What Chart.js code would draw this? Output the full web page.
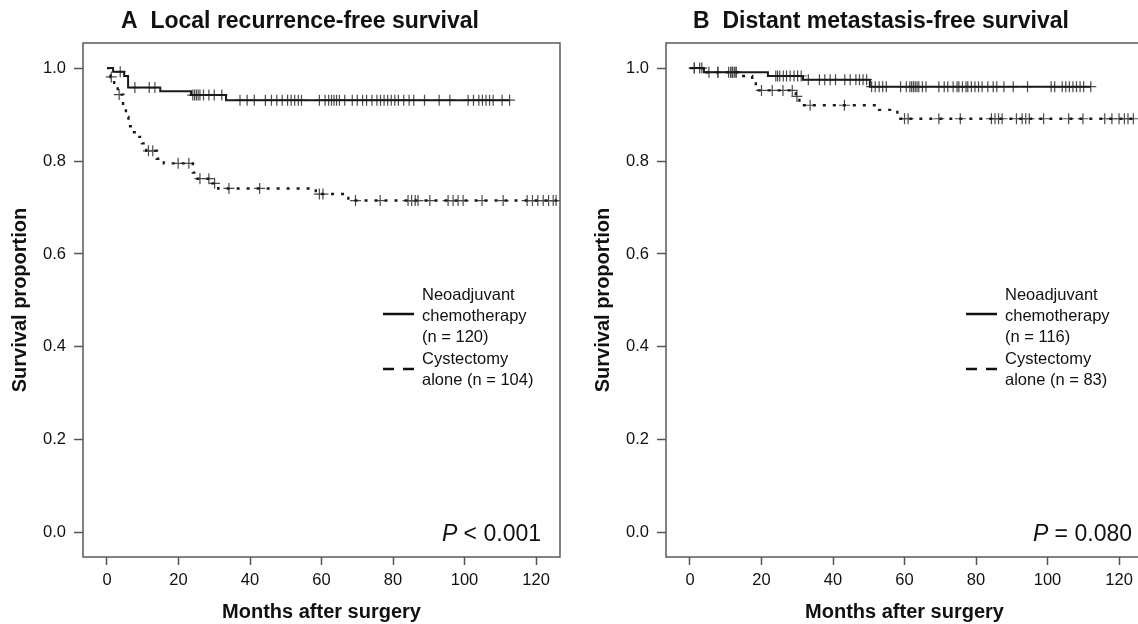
<!DOCTYPE html>
<html>
<head>
<meta charset="utf-8">
<title>Survival curves</title>
<script src="https://cdn.jsdelivr.net/npm/chart.js@4.4.1/dist/chart.umd.min.js"></script>
<style>
  html, body { margin: 0; padding: 0; background: #fff; overflow: hidden; }
  #wrap { position: relative; width: 1138px; height: 624px; overflow: hidden; }
  canvas { position: absolute; top: 0; }
  #panelA { left: 0; }
  #panelB { left: 583px; }
</style>
</head>
<body>
<div id="wrap">
  <canvas id="panelA" width="570" height="624"></canvas>
  <canvas id="panelB" width="570" height="624"></canvas>
</div>
<script>
// Ejes
const xTicks = [0, 20, 40, 60, 80, 100, 120];
const xTickLabels = ['0', '20', '40', '60', '80', '100', '120'];
const yTicks = [0, 0.2, 0.4, 0.6, 0.8, 1.0];
const yTickLabels = ['0.0', '0.2', '0.4', '0.6', '0.8', '1.0'];

// A - Local recurrence-free survival
const aNacTime = [0, 1.7, 4.8, 5.9, 14.9, 23.5, 33.3, 112.6];
const aNacSurv = [1, 0.992, 0.983, 0.958, 0.950, 0.942, 0.931, 0.931];
const aNacCensor = [3.7, 7.8, 11.8, 13.4, 24.0, 24.5, 25.0, 25.5, 26.0, 27.0, 28.5, 30.0, 32.1,
  37.2, 39.2, 41.2, 44.3, 46.0, 47.5, 49.0, 50.5, 51.5, 52.5, 53.5, 54.4, 59.4, 61.0, 62.0,
  62.8, 63.5, 64.2, 65.0, 66.5, 68.6, 70.0, 71.5, 72.6, 74.1, 75.5, 76.5, 77.5, 78.5, 79.5,
  80.5, 81.5, 83.0, 84.5, 85.8, 88.8, 92.9, 95.9, 101.0, 102.5, 104.0, 105.0, 106.0, 107.0,
  108.0, 110.5, 112.6];
const aCysTime = [0, 1.0, 2.0, 3.0, 4.5, 5.3, 6.0, 7.0, 8.3, 9.8, 11.0, 13.9, 15.9, 24.0, 25.0,
  29.5, 31.1, 58.4, 67.5, 125.8];
const aCysSurv = [1, 0.981, 0.962, 0.943, 0.915, 0.895, 0.875, 0.862, 0.852, 0.838, 0.822,
  0.805, 0.795, 0.775, 0.762, 0.752, 0.741, 0.729, 0.715, 0.715];
const aCysCensor = [1.2, 3.4, 11.6, 12.8, 19.9, 22.9, 26.0, 28.5, 30.1, 34.1, 42.7, 59.4, 60.4,
  69.5, 76.4, 84.2, 85.2, 86.2, 87.0, 90.3, 95.4, 96.8, 98.2, 99.6, 104.9, 110.8, 117.5,
  119.0, 120.5, 122.0, 123.5, 124.8, 125.6];

// B - Distant metastasis-free survival
const bNacTime = [0, 3.9, 21.8, 31.6, 50.3, 112.1];
const bNacSurv = [1, 0.991, 0.983, 0.975, 0.960, 0.960];
const bNacCensor = [1.2, 2.7, 5.3, 7.8, 10.8, 11.4, 11.9, 12.4, 12.9, 24.0, 24.5, 25.1, 26.1,
  27.0, 28.0, 29.1, 30.1, 31.1, 33.1, 36.2, 37.7, 39.2, 40.7, 43.3, 44.8, 46.4, 47.4, 48.4,
  49.4, 50.8, 51.8, 52.9, 53.9, 54.9, 58.9, 60.5, 61.5, 62.0, 62.5, 63.0, 63.5, 64.0, 65.0,
  66.0, 69.6, 71.1, 72.1, 73.6, 74.7, 75.2, 76.2, 77.2, 77.7, 78.7, 79.7, 80.7, 81.7, 83.3,
  84.8, 85.8, 87.8, 90.4, 94.4, 101.0, 102.0, 104.1, 105.1, 106.1, 107.1, 108.1, 109.1,
  110.1, 112.1];
const bCysTime = [0, 4.6, 14.9, 17.4, 18.4, 29.6, 30.6, 52.9, 58.0, 126.5];
const bCysSurv = [1, 0.991, 0.983, 0.975, 0.952, 0.939, 0.920, 0.910, 0.891, 0.891];
const bCysCensor = [1.2, 3.3, 7.8, 11.4, 11.9, 12.9, 20.0, 23.0, 26.0, 28.6, 29.9, 33.6, 43.2,
  60.0, 61.0, 69.6, 75.6, 84.3, 85.3, 86.3, 87.3, 91.3, 92.9, 93.9, 94.9, 98.9, 105.9, 109.9,
  116.0, 118.0, 120.0, 121.5, 122.5, 124.0];

const FONT = "'Liberation Sans', Arial, sans-serif";
Chart.defaults.font.family = FONT;
Chart.defaults.color = '#111';

function levelAt(times, surv, t) {
  let s = surv[0];
  for (let i = 0; i < times.length; i++) {
    if (times[i] <= t) s = surv[i];
  }
  return s;
}

// marco, titulo, valor P y leyenda
const panelDecor = {
  id: 'panelDecor',
  afterDraw(chart, args, o) {
    const { ctx, chartArea: a } = chart;
    ctx.save();
    ctx.strokeStyle = '#5a5a5a';
    ctx.lineWidth = 1.5;
    ctx.strokeRect(a.left, a.top, a.right - a.left, a.bottom - a.top);

    ctx.fillStyle = '#111';
    ctx.textBaseline = 'middle';
    ctx.textAlign = 'center';
    ctx.font = 'bold 23px ' + FONT;
    ctx.fillText(o.title, o.titleX, 22);

    ctx.textBaseline = 'alphabetic';
    ctx.textAlign = 'right';
    ctx.font = '23px ' + FONT;
    const rest = o.pText;
    ctx.fillText(rest, o.pRight, 541);
    const w = ctx.measureText(rest).width;
    ctx.font = 'italic 23px ' + FONT;
    ctx.fillText('P', o.pRight - w, 541);

    ctx.textAlign = 'left';
    ctx.textBaseline = 'middle';
    ctx.font = '16.5px ' + FONT;
    o.legend.forEach((item, i) => {
      item.lines.forEach((t, j) => ctx.fillText(t, o.legendX + 39, item.top + j * 21.2));
      ctx.beginPath();
      ctx.lineWidth = 2.5;
      ctx.strokeStyle = '#111';
      ctx.setLineDash(item.dash);
      ctx.moveTo(o.legendX, item.sampleY);
      ctx.lineTo(o.legendX + 31, item.sampleY);
      ctx.stroke();
      ctx.setLineDash([]);
    });
    ctx.restore();
  }
};

function curve(times, surv, dash) {
  return {
    data: times.map((t, i) => ({ x: t, y: surv[i] })),
    stepped: 'before',
    borderColor: '#1a1a1a',
    borderWidth: dash.length ? 2.4 : 2,
    borderDash: dash,
    pointRadius: 0,
    fill: false
  };
}

function censors(times, surv, cens) {
  return {
    data: cens.map(t => ({ x: t, y: levelAt(times, surv, t) })),
    showLine: false,
    pointStyle: 'cross',
    pointRadius: 5.5,
    pointBorderWidth: 1.2,
    pointBorderColor: '#4a4a4a',
    pointBackgroundColor: '#4a4a4a'
  };
}

function drawPanel(id, datasets, decor) {
  new Chart(document.getElementById(id), {
    type: 'line',
    data: { datasets: datasets },
    options: {
      responsive: false,
      animation: false,
      events: [],
      layout: { padding: { top: 43, right: 10, left: 0, bottom: 0 } },
      scales: {
        x: {
          type: 'linear',
          min: -6.71,
          max: 126.7,
          afterBuildTicks: s => { s.ticks = xTicks.map(v => ({ value: v })); },
          afterFit: s => { s.height = 67; },
          border: { display: false },
          grid: { drawOnChartArea: false, drawTicks: true, tickLength: 8, tickColor: '#555', tickWidth: 1.5 },
          ticks: {
            autoSkip: false,
            maxRotation: 0,
            padding: 6,
            color: '#111',
            font: { size: 16.5 },
            callback: (v, i) => xTickLabels[i]
          },
          title: {
            display: true,
            text: 'Months after surgery',
            color: '#111',
            font: { size: 20, weight: 'bold' },
            padding: { top: 0, bottom: 0 }
          }
        },
        y: {
          min: -0.052,
          max: 1.054,
          afterBuildTicks: s => { s.ticks = yTicks.map(v => ({ value: v })); },
          afterFit: s => { s.width = 83; },
          border: { display: false },
          grid: { drawOnChartArea: false, drawTicks: true, tickLength: 9, tickColor: '#555', tickWidth: 1.5 },
          ticks: {
            autoSkip: false,
            padding: 8,
            color: '#111',
            font: { size: 16.5 },
            callback: (v, i) => yTickLabels[i]
          },
          title: {
            display: true,
            text: 'Survival proportion',
            color: '#111',
            font: { size: 20, weight: 'bold' },
            padding: { top: 8, bottom: 0 }
          }
        }
      },
      plugins: {
        legend: { display: false },
        tooltip: { enabled: false },
        panelDecor: decor
      }
    },
    plugins: [panelDecor]
  });
}

drawPanel('panelA', [
  curve(aNacTime, aNacSurv, []),
  curve(aCysTime, aCysSurv, [3, 7]),
  censors(aNacTime, aNacSurv, aNacCensor),
  censors(aCysTime, aCysSurv, aCysCensor)
], {
  title: 'A  Local recurrence-free survival',
  titleX: 300,
  pText: ' < 0.001',
  pRight: 541,
  legendX: 383,
  legend: [
    { lines: ['Neoadjuvant', 'chemotherapy', '(n = 120)'], top: 295, sampleY: 314, dash: [] },
    { lines: ['Cystectomy', 'alone (n = 104)'], top: 359, sampleY: 369, dash: [11, 9] }
  ]
});

drawPanel('panelB', [
  curve(bNacTime, bNacSurv, []),
  curve(bCysTime, bCysSurv, [3, 7]),
  censors(bNacTime, bNacSurv, bNacCensor),
  censors(bCysTime, bCysSurv, bCysCensor)
], {
  title: 'B  Distant metastasis-free survival',
  titleX: 298,
  pText: ' = 0.080',
  pRight: 549,
  legendX: 383,
  legend: [
    { lines: ['Neoadjuvant', 'chemotherapy', '(n = 116)'], top: 295, sampleY: 314, dash: [] },
    { lines: ['Cystectomy', 'alone (n = 83)'], top: 359, sampleY: 369, dash: [11, 9] }
  ]
});
</script>
</body>
</html>
